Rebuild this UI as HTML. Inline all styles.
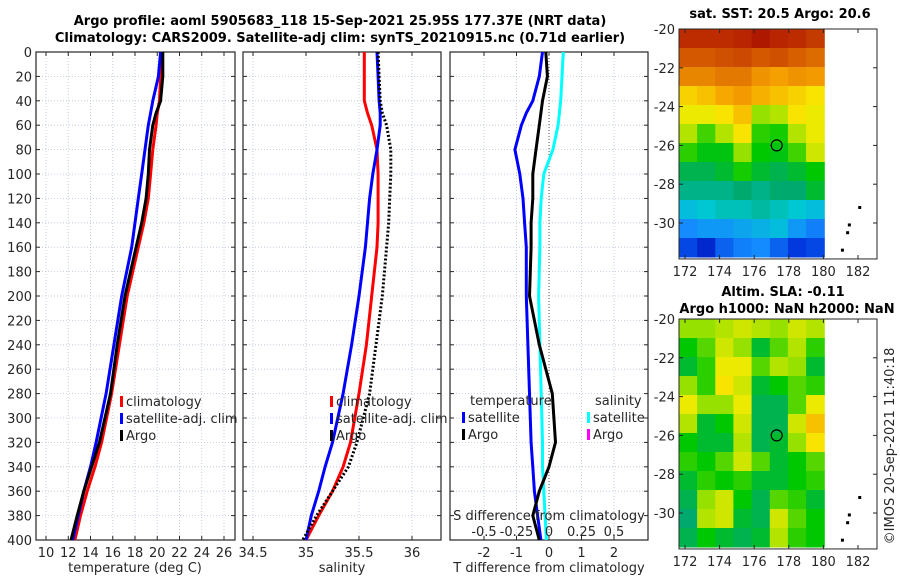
<!DOCTYPE html>
<html><head><meta charset="utf-8">
<style>
html,body{margin:0;padding:0;background:#fff;}
svg{display:block;font-family:"DejaVu Sans","Liberation Sans",sans-serif;}
</style></head>
<body>
<svg id="fig" width="900" height="580" viewBox="0 0 900 580"></svg>
<script>
// ---- data ----
const depths = [0,20,40,50,60,80,100,120,140,160,200,240,280,320,340,360,380,400];
const tempArgo = [20.5,20.5,20.3,19.9,19.6,19.3,19.2,19.0,18.6,18.1,17.1,16.4,15.8,14.8,14.1,13.4,12.8,12.25];
const tempClim = [20.4,20.3,20.2,20.0,19.9,19.6,19.4,19.2,18.8,18.3,17.3,16.6,15.9,15.0,14.4,13.7,13.1,12.6];
const tempSat  = [20.3,20.1,19.6,19.4,19.2,18.9,18.6,18.3,18.0,17.7,16.8,16.1,15.4,14.5,14.0,13.4,12.9,12.4];
const salClim  = [35.55,35.55,35.55,35.58,35.62,35.67,35.68,35.68,35.68,35.67,35.62,35.57,35.5,35.42,35.35,35.25,35.12,35.0];
const salSat   = [35.67,35.68,35.69,35.70,35.70,35.67,35.63,35.60,35.58,35.56,35.5,35.43,35.35,35.25,35.18,35.12,35.05,35.0];
const salArgo  = [35.68,35.69,35.70,35.72,35.76,35.80,35.80,35.79,35.78,35.76,35.72,35.66,35.6,35.48,35.4,35.25,35.1,34.97];
const dTsat    = [-0.2,-0.3,-0.5,-0.7,-0.85,-1.05,-0.9,-0.8,-0.75,-0.7,-0.7,-0.65,-0.6,-0.55,-0.5,-0.45,-0.35,-0.25];
const dTargo   = [-0.1,-0.05,-0.2,-0.25,-0.3,-0.4,-0.5,-0.5,-0.55,-0.55,-0.6,-0.3,0.1,0.2,0.0,-0.3,-0.5,-0.3];
const dSsat    = [0.11,0.1,0.09,0.08,0.07,0.03,-0.04,-0.06,-0.07,-0.07,-0.08,-0.07,-0.06,-0.05,-0.05,-0.04,-0.03,-0.02];
const tTicks = [10,12,14,16,18,20,22,24,26];
const sTicks = [34.5,35,35.5,36];
const dTicks = [-2,-1,0,1,2];
const dsTicks = [-0.5,-0.25,0,0.25,0.5];
const depthTicks = [0,20,40,60,80,100,120,140,160,180,200,220,240,260,280,300,320,340,360,380,400];
const sstGrid = [
[.93,.93,.93,.94,.96,.94,.93,.91],
[.87,.87,.88,.89,.87,.88,.86,.84],
[.80,.80,.82,.82,.78,.76,.78,.77],
[.70,.72,.75,.77,.74,.72,.70,.68],
[.66,.66,.68,.72,.60,.62,.68,.66],
[.62,.56,.62,.68,.55,.54,.62,.66],
[.55,.52,.52,.60,.53,.52,.56,.64],
[.48,.48,.50,.54,.50,.48,.50,.53],
[.44,.44,.44,.46,.44,.46,.46,.50],
[.36,.38,.40,.40,.42,.40,.38,.36],
[.28,.30,.30,.32,.34,.36,.30,.26],
[.18,.12,.22,.26,.28,.22,.16,.18]];
const slaGrid = [
[.60,.60,.62,.64,.62,.60,.64,.62],
[.53,.57,.64,.60,.50,.57,.62,.55],
[.50,.55,.66,.66,.57,.62,.60,.50],
[.60,.55,.68,.64,.50,.53,.57,.55],
[.66,.60,.60,.66,.48,.48,.57,.66],
[.62,.50,.53,.64,.48,.48,.64,.72],
[.53,.50,.50,.62,.48,.50,.60,.68],
[.55,.53,.57,.64,.57,.50,.53,.57],
[.50,.55,.53,.55,.50,.50,.53,.55],
[.48,.60,.64,.53,.48,.57,.55,.50],
[.46,.62,.64,.50,.48,.64,.57,.53],
[.48,.53,.50,.48,.50,.62,.55,.53]];
const lonTicks = [172,174,176,178,180,182];
const latTicks = [-20,-22,-24,-26,-28,-30];
const islands = [[182.1,-29.2],[181.5,-30.1],[181.4,-30.5],[181.1,-31.4]];
const argoPos = [177.3,-26];

const svg = document.getElementById('fig');
const NS = 'http://www.w3.org/2000/svg';
function mk(tag, attrs, parent){const e=document.createElementNS(NS,tag);for(const k in attrs)e.setAttribute(k,attrs[k]);(parent||svg).appendChild(e);return e;}
function txt(x,y,s,attrs,parent){const e=mk('text',Object.assign({x:x,y:y,'font-size':13,fill:'#262626'},attrs||{}),parent);e.textContent=s;return e;}

const Y0=52, Y1=540;
function yDepth(d){return Y0+(d/400)*(Y1-Y0);}
function linScale(d0,d1,r0,r1){return v=>r0+(v-d0)/(d1-d0)*(r1-r0);}

function panel(name,x0,x1,xs,ticks,tickFmt,showY){
  const g=mk('g',{});
  
  
  for(const t of depthTicks){const y=yDepth(t);
    mk('line',{x1:x0,x2:x1,y1:y,y2:y,stroke:'#b8c4dc','stroke-width':0.8,'stroke-dasharray':'1,2'},g);
    mk('line',{x1:x0,x2:x0+4,y1:y,y2:y,stroke:'#262626'},g);
    mk('line',{x1:x1-4,x2:x1,y1:y,y2:y,stroke:'#262626'},g);
    if(showY) txt(x0-4,y+5,String(t),{'text-anchor':'end'},g);
  }
  for(const t of ticks){const x=xs(t);
    mk('line',{x1:x,x2:x,y1:Y0,y2:Y1,stroke:'#b8c4dc','stroke-width':0.8,'stroke-dasharray':'1,2'},g);
    mk('line',{x1:x,x2:x,y1:Y1,y2:Y1-4,stroke:'#262626'},g);
    mk('line',{x1:x,x2:x,y1:Y0,y2:Y0+4,stroke:'#262626'},g);
    txt(x,557,tickFmt(t),{'text-anchor':'middle'},g);
  }
  mk('rect',{x:x0,y:Y0,width:x1-x0,height:Y1-Y0,fill:'none',stroke:'#262626','stroke-width':1.2},g);
  return g;
}
function series(g,name,vals,xs,color,dash){
  const pts=depths.map((d,i)=>xs(vals[i]).toFixed(1)+','+yDepth(d).toFixed(1)).join(' ');
  const p=mk('polyline',{points:pts,fill:'none',stroke:color,'stroke-width':3,'stroke-linejoin':'round'},g);
  if(dash)p.setAttribute('stroke-dasharray',dash);
  
  
}
function legend(g,x,y,items){
  items.forEach((it,i)=>{const yy=y+i*17;
    mk('rect',{x:x,y:yy-10,width:3,height:11,fill:it[1]},g);
    txt(x+6,yy,it[0],{},g);
  });
}

// Panel 1
const xT=linScale(10,26,46,224);
const p1=panel('temperature-panel',36,235,xT,tTicks,String,true);
series(p1,'temp-climatology-line',tempClim,xT,'#ff0000');
series(p1,'temp-satellite-line',tempSat,xT,'#0000ff');
series(p1,'temp-argo-line',tempArgo,xT,'#000000');
legend(p1,120,406,[['climatology','#ff0000'],['satellite-adj. clim','#0000ff'],['Argo','#000000']]);
txt(135,572,'temperature (deg C)',{'text-anchor':'middle'});

// Panel 2
const xS=linScale(35,36,306,412);
const p2=panel('salinity-panel',243,441,xS,sTicks,String,false);
series(p2,'sal-climatology-line',salClim,xS,'#ff0000');
series(p2,'sal-satellite-line',salSat,xS,'#0000ff');
series(p2,'sal-argo-line',salArgo,xS,'#000000','2,2');
legend(p2,330,406,[['climatology','#ff0000'],['satellite-adj. clim','#0000ff'],['Argo','#000000']]);
txt(342,572,'salinity',{'text-anchor':'middle'});

// Panel 3
const xD=linScale(0,1,549,581.5);
const xDS=v=>xD(v*4);
const p3=panel('difference-panel',450,648,xD,dTicks,String,false);
mk('line',{x1:xD(0),x2:xD(0),y1:Y0,y2:Y1,stroke:'#555','stroke-width':1,'stroke-dasharray':'1,2'},p3);
series(p3,'dT-satellite-line',dTsat,xD,'#0000ff');
series(p3,'dS-satellite-line',dSsat,xDS,'#00ffff');
series(p3,'dT-argo-line',dTargo,xD,'#000000');
txt(470,405,'temperature',{},p3);
txt(595,405,'salinity',{},p3);
legend(p3,462,422,[['satellite','#0000ff'],['Argo','#000000']]);
legend(p3,587,422,[['satellite','#00ffff'],['Argo','#ff00ff']]);
txt(549,520,'S difference from climatology',{'text-anchor':'middle'},p3);
dsTicks.forEach(t=>txt(xDS(t),536,String(t),{'text-anchor':'middle'},p3));
txt(549,572,'T difference from climatology',{'text-anchor':'middle'});

// Titles
txt(340,25,'Argo profile: aoml 5905683_118 15-Sep-2021 25.95S 177.37E (NRT data)',{'text-anchor':'middle','font-weight':'bold','fill':'#000'});
txt(340,42,'Climatology: CARS2009. Satellite-adj clim: synTS_20210915.nc (0.71d earlier)',{'text-anchor':'middle','font-weight':'bold','fill':'#000'});

// colormap
const cmapStops=[[0,[0,0,140]],[0.15,[0,50,220]],[0.28,[20,140,255]],[0.38,[0,200,210]],[0.46,[0,170,110]],[0.53,[0,200,0]],[0.6,[150,225,0]],[0.67,[250,235,0]],[0.76,[245,160,0]],[0.86,[215,95,0]],[0.95,[180,30,0]],[1,[150,0,0]]];
function cmap(v){
  for(let i=1;i<cmapStops.length;i++){
    if(v<=cmapStops[i][0]){const a=cmapStops[i-1],b=cmapStops[i];const f=(v-a[0])/(b[0]-a[0]);
      return 'rgb('+a[1].map((c,k)=>Math.round(c+(b[1][k]-c)*f)).join(',')+')';}
  }
  return 'rgb(150,0,0)';
}
function mapPanel(name,top,grid){
  const g=mk('g',{});
  
  
  const lx=linScale(172,182,685,858);
  const ly=linScale(-20,-30,top,top+194);
  const lon0=171.65,lon1=180.05,lat0=-20,lat1=-31.75;
  const rows=grid.length,cols=grid[0].length;
  const cw=(lon1-lon0)/cols,ch=(lat0-lat1)/rows;
  grid.forEach((row,i)=>row.forEach((v,j)=>{
    const xa=lx(lon0+j*cw),xb=lx(lon0+(j+1)*cw),ya=ly(lat0-i*ch),yb=ly(lat0-(i+1)*ch);
    const c=mk('rect',{x:xa.toFixed(1),y:ya.toFixed(1),width:(xb-xa+0.5).toFixed(1),height:(yb-ya+0.5).toFixed(1),fill:cmap(v)},g);
    
    
  }));
  const ax0=679,ax1=877,ay1=ly(-31.75)+2;
  mk('rect',{x:ax0,y:top,width:ax1-ax0,height:ay1-top,fill:'none',stroke:'#262626','stroke-width':1},g);
  lonTicks.forEach(t=>{const x=lx(t);mk('line',{x1:x,x2:x,y1:ay1,y2:ay1-4,stroke:'#262626'},g);mk('line',{x1:x,x2:x,y1:top,y2:top+4,stroke:'#262626'},g);txt(x,ay1+17,String(t),{'text-anchor':'middle'},g);});
  latTicks.forEach(t=>{const y=ly(t);mk('line',{x1:ax0,x2:ax0+4,y1:y,y2:y,stroke:'#262626'},g);mk('line',{x1:ax1-4,x2:ax1,y1:y,y2:y,stroke:'#262626'},g);txt(ax0-4,y+5,String(t),{'text-anchor':'end'},g);});
  islands.forEach(p=>mk('rect',{x:lx(p[0])-1.5,y:ly(p[1])-1.5,width:3,height:3,fill:'#000'},g));
  const c=mk('ellipse',{cx:lx(argoPos[0]),cy:ly(argoPos[1]),rx:5.5,ry:5.5,fill:'none',stroke:'#000','stroke-width':1.2},g);
  
  
  return g;
}
mapPanel('sst-map',29,sstGrid);
txt(780,18,'sat. SST: 20.5 Argo: 20.6',{'text-anchor':'middle','font-weight':'bold','fill':'#000'});
mapPanel('sla-map',319,slaGrid);
txt(783,296,'Altim. SLA: -0.11',{'text-anchor':'middle','font-weight':'bold','fill':'#000'});
txt(787,313,'Argo h1000: NaN h2000: NaN',{'text-anchor':'middle','font-weight':'bold','fill':'#000'});
const cr=txt(0,0,'©IMOS 20-Sep-2021 11:40:18',{'text-anchor':'middle','transform':'translate(894,446) rotate(-90)'});


</script>
</body></html>
